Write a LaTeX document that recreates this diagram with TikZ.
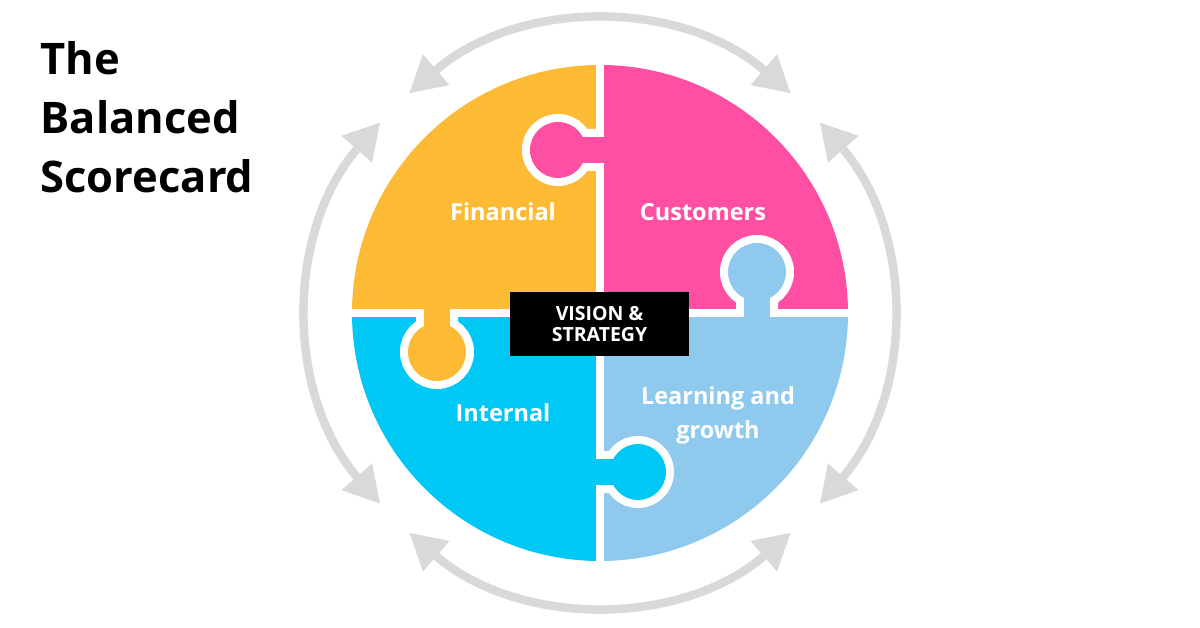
\documentclass[tikz,border=0pt]{standalone}
\usepackage{fontspec}
\setmainfont{Open Sans}
\usetikzlibrary{arrows.meta,calc}
\definecolor{cyel}{HTML}{FDBB35}
\definecolor{cpink}{HTML}{FF4FA3}
\definecolor{ccyan}{HTML}{00C8F4}
\definecolor{clblue}{HTML}{8FCAEE}
\definecolor{cgray}{HTML}{D9D9D9}
\tikzset{
  lbl/.style={text=white,font=\bfseries\fontsize{23.5}{34}\selectfont,align=center},
  ttl/.style={anchor=west,font=\bfseries\fontsize{43.5}{50}\selectfont},
  cyc/.style={draw=cgray,line width=8.5pt,{Triangle[length=36pt,width=38pt]}-{Triangle[length=36pt,width=38pt]}},
  gap/.style={draw=white,line width=8pt},
  knobout/.style={draw=white,line width=16pt}
}
\begin{document}
\begin{tikzpicture}[x=1pt,y=-1pt]
\useasboundingbox (0,0) rectangle (1200,628);
\fill[white] (0,0) rectangle (1200,628);
\coordinate (c) at (600,313);
% quadrants
\fill[cyel] (c) -- ++(-248,0) arc[start angle=180,end angle=270,radius=248] -- cycle;
\fill[cpink] (c) -- ++(0,-248) arc[start angle=270,end angle=360,radius=248] -- cycle;
\fill[clblue] (c) -- ++(248,0) arc[start angle=0,end angle=90,radius=248] -- cycle;
\fill[ccyan] (c) -- ++(0,248) arc[start angle=90,end angle=180,radius=248] -- cycle;
\draw[gap] (600,60) -- (600,566);
\draw[gap] (348,313) -- (852,313);
% knobs
\begin{scope}\clip (300,0) rectangle (596,309);
\draw[knobout] (558,150) circle[radius=28] (575,137) rectangle (610,163);\end{scope}
\fill[cpink] (558,150) circle[radius=28];
\fill[cpink] (570,137) rectangle (610,163);
\begin{scope}\clip (604,0) rectangle (900,309);
\draw[knobout] (757,272) circle[radius=29] (744,285) rectangle (770,320);\end{scope}
\fill[clblue] (757,272) circle[radius=29];
\fill[clblue] (744,285) rectangle (770,320);
\begin{scope}\clip (300,317) rectangle (596,600);
\draw[knobout] (437,352) circle[radius=29] (424,305) rectangle (450,340);\end{scope}
\fill[cyel] (437,352) circle[radius=29];
\fill[cyel] (424,305) rectangle (450,340);
\begin{scope}\clip (604,317) rectangle (900,600);
\draw[knobout] (638,472) circle[radius=28] (590,459) rectangle (625,485);\end{scope}
\fill[ccyan] (638,472) circle[radius=28];
\fill[ccyan] (590,459) rectangle (626,485);
% cycle arrows
\foreach \a in {-49,-139,-229,-319}
  \draw[cyc] ($(c)+(\a:291)$) arc[start angle=\a,end angle=\a-82,radius=291];
% center
\node[fill=black,text=white,font=\bfseries\fontsize{19.5}{21}\selectfont,align=center,minimum width=179pt,minimum height=64pt,inner sep=0pt] (vs) at (599.5,324) {VISION \&\\STRATEGY};
\node[lbl] (fin) at (503,212) {Financial};
\node[lbl] (cus) at (703,212) {Customers};
\node[lbl] (int) at (503,413) {Internal};
\node[lbl] (lea) at (718,415) {Learning and\\growth};
\node[ttl] (t1) at (37,58) {The};
\node[ttl] (t2) at (37,117) {Balanced};
\node[ttl] (t3) at (37,176) {Scorecard};
\end{tikzpicture}
\end{document}
